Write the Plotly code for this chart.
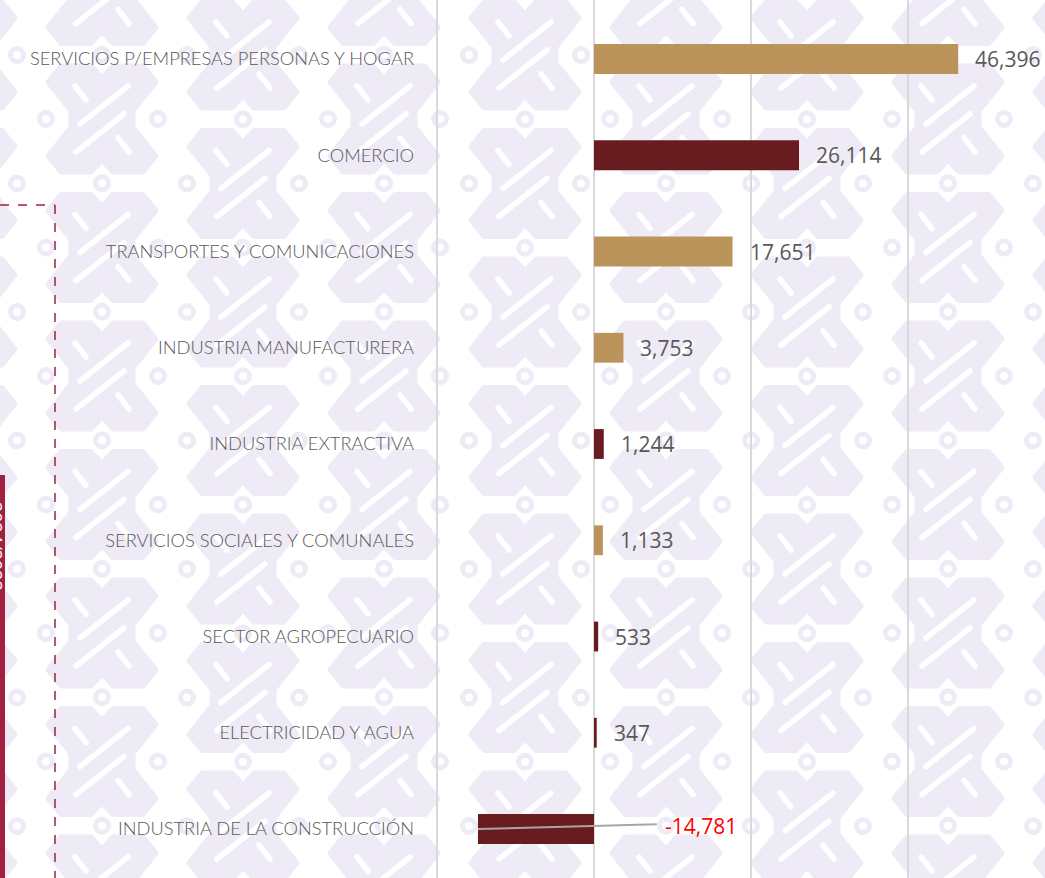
import base64
import plotly.graph_objects as go

# ---------------- data ----------------
categories = [
    "SERVICIOS P/EMPRESAS PERSONAS Y HOGAR",
    "COMERCIO",
    "TRANSPORTES Y COMUNICACIONES",
    "INDUSTRIA MANUFACTURERA",
    "INDUSTRIA EXTRACTIVA",
    "SERVICIOS SOCIALES Y COMUNALES",
    "SECTOR AGROPECUARIO",
    "ELECTRICIDAD Y AGUA",
    "INDUSTRIA DE LA CONSTRUCCIÓN",
]
values = [46396, 26114, 17651, 3753, 1244, 1133, 533, 347, -14781]
bar_group = ["oro", "vino", "oro", "oro", "vino", "oro", "vino", "vino", "vino"]
side_tab_text = "2024/2023"

# ---------------- style ----------------
W, H = 1045, 878
ML, MR, MT, MB = 430, 0, 0, 0
PW, PH = W - ML - MR, H - MT - MB
GOLD = "#BA945B"
WINE = "#691C20"
CRIMSON = "#A02142"
LAV = "#EEEAF6"
GRID = "#D9D9D9"
TXT = "#595959"
colors = [GOLD if g == "oro" else WINE for g in bar_group]

X_RANGE = [-20892, 57452]
Y_RANGE = [8.509, -0.613]
LEADER_END = 8000
NEG_LABEL_SHIFT = 69


def px_x(px):
    return (px - ML) / PW


def px_y(py):
    return 1 - (py - MT) / PH


# ---------------- background pattern (decoration) ----------------
sil = [(-41, -53), (-11, -53), (0, -41), (11, -53), (41, -53), (54, -37), (31, -8),
       (31, 8), (54, 37), (41, 53), (11, 53), (0, 41), (-11, 53), (-41, 53),
       (-54, 37), (-31, 8), (-31, -8), (-54, -37)]
pts = " ".join(f"{a},{b}" for a, b in sil)
cuts = [((26, -33), (-22, 5)), ((22, -5), (-26, 33)),
        ((-27, -33), (-16, -19)), ((16, 19), (27, 33))]
motif = [f'<polygon points="{pts}" fill="{LAV}" stroke="{LAV}" stroke-width="5" stroke-linejoin="round"/>']
for (a, b), (c, d) in cuts:
    motif.append(f'<line x1="{a}" y1="{b}" x2="{c}" y2="{d}" stroke="#FFFFFF" stroke-width="5.5" stroke-linecap="round"/>')
parts = [f'<svg xmlns="http://www.w3.org/2000/svg" xmlns:xlink="http://www.w3.org/1999/xlink" width="{W}" height="{H}" viewBox="0 0 {W} {H}">',
         '<defs><g id="m">' + "".join(motif) + '</g>',
         f'<g id="r"><circle cx="0" cy="0" r="6.5" fill="none" stroke="{LAV}" stroke-width="5"/></g></defs>',
         '<rect width="100%" height="100%" fill="#FFFFFF"/>']
for k in range(-1, 9):
    cx = 102 + 141 * k
    base = 119 if k % 2 == 0 else 55
    for j in range(-1, 9):
        cy = base + 128.5 * j
        parts.append(f'<use xlink:href="#m" href="#m" x="{cx}" y="{cy}"/>')
        for rx, ry in ((cx - 56, cy), (cx + 56, cy), (cx, cy - 64.25)):
            parts.append(f'<use xlink:href="#r" href="#r" x="{rx}" y="{ry}"/>')
parts.append("</svg>")
svg_uri = "data:image/svg+xml;base64," + base64.b64encode("".join(parts).encode()).decode()

# ---------------- figure ----------------
ypos = list(range(len(categories)))
fig = go.Figure()
fig.add_trace(go.Bar(
    x=values, y=ypos, orientation="h", width=0.31,
    marker=dict(color=colors, line=dict(width=0)),
    hoverinfo="skip",
))

annotations = []
shapes = []
for i, v in enumerate(values):
    label = f"{v:,}"
    if v >= 0:
        annotations.append(dict(x=v, y=i, xref="x", yref="y", text=label, showarrow=False,
                                xanchor="left", xshift=15,
                                font=dict(family="Open Sans", size=21, color=TXT)))
    else:
        annotations.append(dict(x=0, y=i, xref="x", yref="y", text=label, showarrow=False,
                                xanchor="left", xshift=NEG_LABEL_SHIFT, yshift=3,
                                font=dict(family="Open Sans", size=21, color="#FF0000")))
        shapes.append(dict(type="line", xref="x", yref="y", x0=v, y0=i, x1=LEADER_END, y1=i - 0.05,
                           line=dict(color="#A6A6A6", width=2), layer="above"))

# left decorations
shapes.append(dict(type="line", xref="paper", yref="paper", x0=px_x(0), x1=px_x(55), y0=px_y(205), y1=px_y(205),
                   line=dict(color=CRIMSON, width=1.5, dash="dash")))
shapes.append(dict(type="line", xref="paper", yref="paper", x0=px_x(55), x1=px_x(55), y0=px_y(205), y1=px_y(H),
                   line=dict(color=CRIMSON, width=1.5, dash="dash")))
shapes.append(dict(type="rect", xref="paper", yref="paper", x0=px_x(0), x1=px_x(5), y0=px_y(475), y1=px_y(H),
                   fillcolor=CRIMSON, line=dict(width=0)))
annotations.append(dict(xref="paper", yref="paper", x=px_x(-4), y=px_y(546), text=side_tab_text,
                        textangle=90, showarrow=False, xanchor="center", yanchor="middle",
                        font=dict(family="Open Sans", size=18, color="#FFFFFF")))

fig.update_layout(
    width=W, height=H,
    margin=dict(l=ML, r=MR, t=MT, b=MB, pad=0),
    paper_bgcolor="#FFFFFF", plot_bgcolor="rgba(0,0,0,0)",
    showlegend=False,
    bargap=0.69,
    xaxis=dict(range=X_RANGE, tick0=0, dtick=20000, showticklabels=False, ticks="",
               showgrid=True, gridcolor=GRID, gridwidth=2,
               zeroline=True, zerolinecolor=GRID, zerolinewidth=2, showline=False, fixedrange=True),
    yaxis=dict(range=Y_RANGE, tickmode="array", tickvals=ypos, ticktext=categories,
               showgrid=False, zeroline=False, showline=False, ticks="", ticklabelstandoff=15,
               tickfont=dict(family="Lato", size=18.3, color=TXT, weight=300), fixedrange=True),
    annotations=annotations,
    shapes=shapes,
    images=[dict(source=svg_uri, xref="paper", yref="paper", x=px_x(0), y=px_y(0),
                 sizex=W / PW, sizey=H / PH, xanchor="left", yanchor="top",
                 sizing="stretch", layer="below")],
)

fig.write_html("out.html", config={"displayModeBar": False},
               post_script="document.body.style.margin='0';document.body.style.padding='0';")
